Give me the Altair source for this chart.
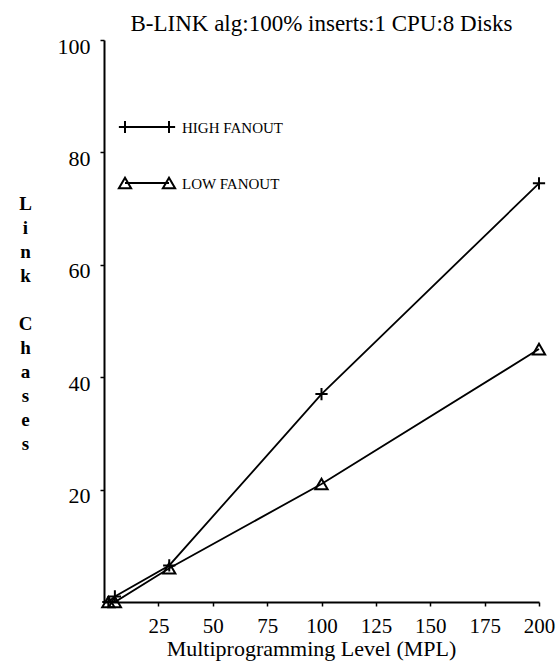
import altair as alt
import pandas as pd

# ---- data ----
mpl = [2, 5, 30, 100, 200]
high_fanout = [0, 1, 6.5, 37, 74.5]
low_fanout = [0, 0, 6, 21, 45]
series_names = ["HIGH FANOUT", "LOW FANOUT"]
x_ticks = [25, 50, 75, 100, 125, 150, 175, 200]
y_ticks = [20, 40, 60, 80, 100]

rows = []
for x, h, l in zip(mpl, high_fanout, low_fanout):
    rows.append({"mpl": x, "chases": h, "series": series_names[0]})
    rows.append({"mpl": x, "chases": l, "series": series_names[1]})
df = pd.DataFrame(rows)

FONT = "'Liberation Serif', 'Times New Roman', Times, serif"
PLUS = "M-1,0L1,0M0,-1L0,1"
shape_scale = alt.Scale(domain=series_names, range=[PLUS, "triangle-up"])

x_enc = alt.X(
    "mpl:Q",
    scale=alt.Scale(domain=[0, 200], nice=False),
    axis=alt.Axis(
        values=x_ticks, grid=False, title="Multiprogramming Level (MPL)",
        labelFont=FONT, labelFontSize=21, labelColor="black", labelPadding=9,
        labelFlush=False,
        tickSize=4, tickColor="black", tickWidth=1.5,
        domainColor="black", domainWidth=2,
        titleFont=FONT, titleFontSize=22, titleFontWeight="normal", titleColor="black",
        titleX=207, titleY=53, titleAlign="center", titleBaseline="alphabetic",
    ),
)
y_enc = alt.Y(
    "chases:Q",
    scale=alt.Scale(domain=[0, 100], nice=False),
    axis=alt.Axis(
        values=y_ticks, grid=False,
        title=["L", "i", "n", "k", "\u2800", "C", "h", "a", "s", "e", "s"],
        titleAngle=0, titleX=-79, titleY=163, titleAlign="center",
        titleBaseline="middle", titleLineHeight=24,
        titleFont=FONT, titleFontSize=19, titleFontWeight="bold", titleColor="black",
        labelFont=FONT, labelFontSize=22, labelColor="black", labelPadding=10,
        labelOffset=6, labelFlush=False,
        tickSize=4, tickColor="black", tickWidth=1.5,
        domainColor="black", domainWidth=2,
    ),
)

lines = alt.Chart(df).mark_line(color="black", strokeWidth=1.8).encode(
    x=x_enc, y=y_enc, detail="series:N"
)
points = alt.Chart(df).mark_point(
    filled=False, color="black", strokeWidth=2, size=150, opacity=1
).encode(
    x="mpl:Q", y="chases:Q",
    shape=alt.Shape("series:N", scale=shape_scale, legend=None),
)

# ---- hand-drawn legend inside the plot ----
def legend_entry(name, shape, ypix):
    d = pd.DataFrame({"series": [name]})
    base = alt.Chart(d)
    rule = base.mark_rule(color="black", strokeWidth=1.8).encode(
        x=alt.value(21), x2=alt.value(65), y=alt.value(ypix)
    )
    p1 = base.mark_point(filled=False, color="black", strokeWidth=2, size=150, opacity=1, shape=shape).encode(
        x=alt.value(21), y=alt.value(ypix)
    )
    p2 = base.mark_point(filled=False, color="black", strokeWidth=2, size=150, opacity=1, shape=shape).encode(
        x=alt.value(65), y=alt.value(ypix)
    )
    txt = base.mark_text(
        font=FONT, fontSize=15, color="black", align="left", baseline="middle"
    ).encode(x=alt.value(78), y=alt.value(ypix + 1), text="series:N")
    return [rule, p1, p2, txt]

legend_layers = legend_entry(series_names[0], PLUS, 87) + legend_entry(series_names[1], "triangle-up", 143)

chart = alt.layer(lines, points, *legend_layers).properties(
    width=435,
    height=562,
    title=alt.TitleParams(
        "B-LINK alg:100% inserts:1 CPU:8 Disks",
        font=FONT, fontSize=23, fontWeight="normal", color="black",
        anchor="middle", offset=-1,
    ),
    autosize=alt.AutoSizeParams(type="none"),
    padding={"left": 104, "top": 40, "right": 17, "bottom": 67},
    background="white",
).configure_view(stroke=None)

chart.save("out.html", embed_options={"renderer": "svg", "actions": False})
